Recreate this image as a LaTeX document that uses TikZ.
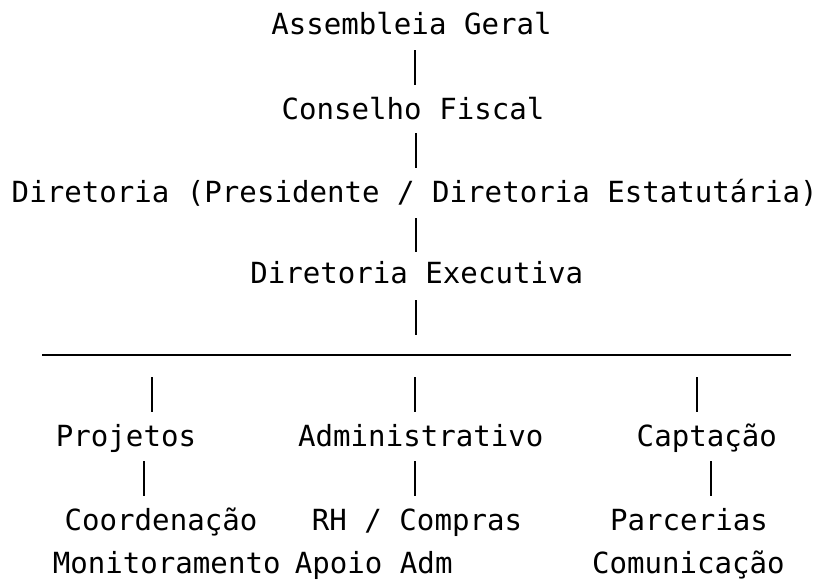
\documentclass[tikz,border=0pt]{standalone}
\usepackage{fontspec}
\newfontfamily\chartmono{DejaVu Sans Mono}
\begin{document}
\begin{tikzpicture}[x=1pt,y=-1pt,
  lbl/.style={anchor=base, inner sep=0pt, font=\chartmono\fontsize{29.1}{35}\selectfont},
  bar/.style={line width=2pt, black}]
\useasboundingbox (0,0) rectangle (818,579);
% texts
\node[lbl] (ag)    at (411.5,34)  {Assembleia Geral};
\node[lbl] (cf)    at (413,119)   {Conselho Fiscal};
\node[lbl] (dp)    at (414.7,202) {Diretoria (Presidente / Diretoria Estatutária)};
\node[lbl] (de)    at (416.7,283.3) {Diretoria Executiva};
\node[lbl] (proj)  at (126,446)   {Projetos};
\node[lbl] (adm)   at (420.8,446) {Administrativo};
\node[lbl] (cap)   at (706.8,446) {Captação};
\node[lbl] (coord) at (161,530)   {Coordenação};
\node[lbl] (rh)    at (417,530)   {RH / Compras};
\node[lbl] (parc)  at (689,530)   {Parcerias};
\node[lbl] (mon)   at (166.7,573) {Monitoramento};
\node[lbl] (apoio) at (373.7,573) {Apoio Adm};
\node[lbl] (com)   at (688.4,573) {Comunicação};
% connector end points
\coordinate (a1) at (415,50);   \coordinate (a2) at (415,85);
\coordinate (b1) at (415.5,133); \coordinate (b2) at (415.5,168);
\coordinate (c1) at (415.5,218); \coordinate (c2) at (415.5,252);
\coordinate (d1) at (416,300);  \coordinate (d2) at (416,335);
\coordinate (hl) at (42,355);   \coordinate (hr) at (791,355);
\coordinate (p1) at (151.7,377); \coordinate (p2) at (151.7,412);
\coordinate (m1) at (415,377);  \coordinate (m2) at (415,412);
\coordinate (k1) at (697.3,377); \coordinate (k2) at (697.3,412);
\coordinate (q1) at (144.3,461); \coordinate (q2) at (144.3,496);
\coordinate (n1) at (415,461);  \coordinate (n2) at (415,496);
\coordinate (r1) at (711.3,461); \coordinate (r2) at (711.3,496);
% connectors
\draw[bar] (a1) -- (a2);
\draw[bar] (b1) -- (b2);
\draw[bar] (c1) -- (c2);
\draw[bar] (d1) -- (d2);
\draw[bar] (hl) -- (hr);
\draw[bar] (p1) -- (p2);
\draw[bar] (m1) -- (m2);
\draw[bar] (k1) -- (k2);
\draw[bar] (q1) -- (q2);
\draw[bar] (n1) -- (n2);
\draw[bar] (r1) -- (r2);
\end{tikzpicture}
\end{document}
